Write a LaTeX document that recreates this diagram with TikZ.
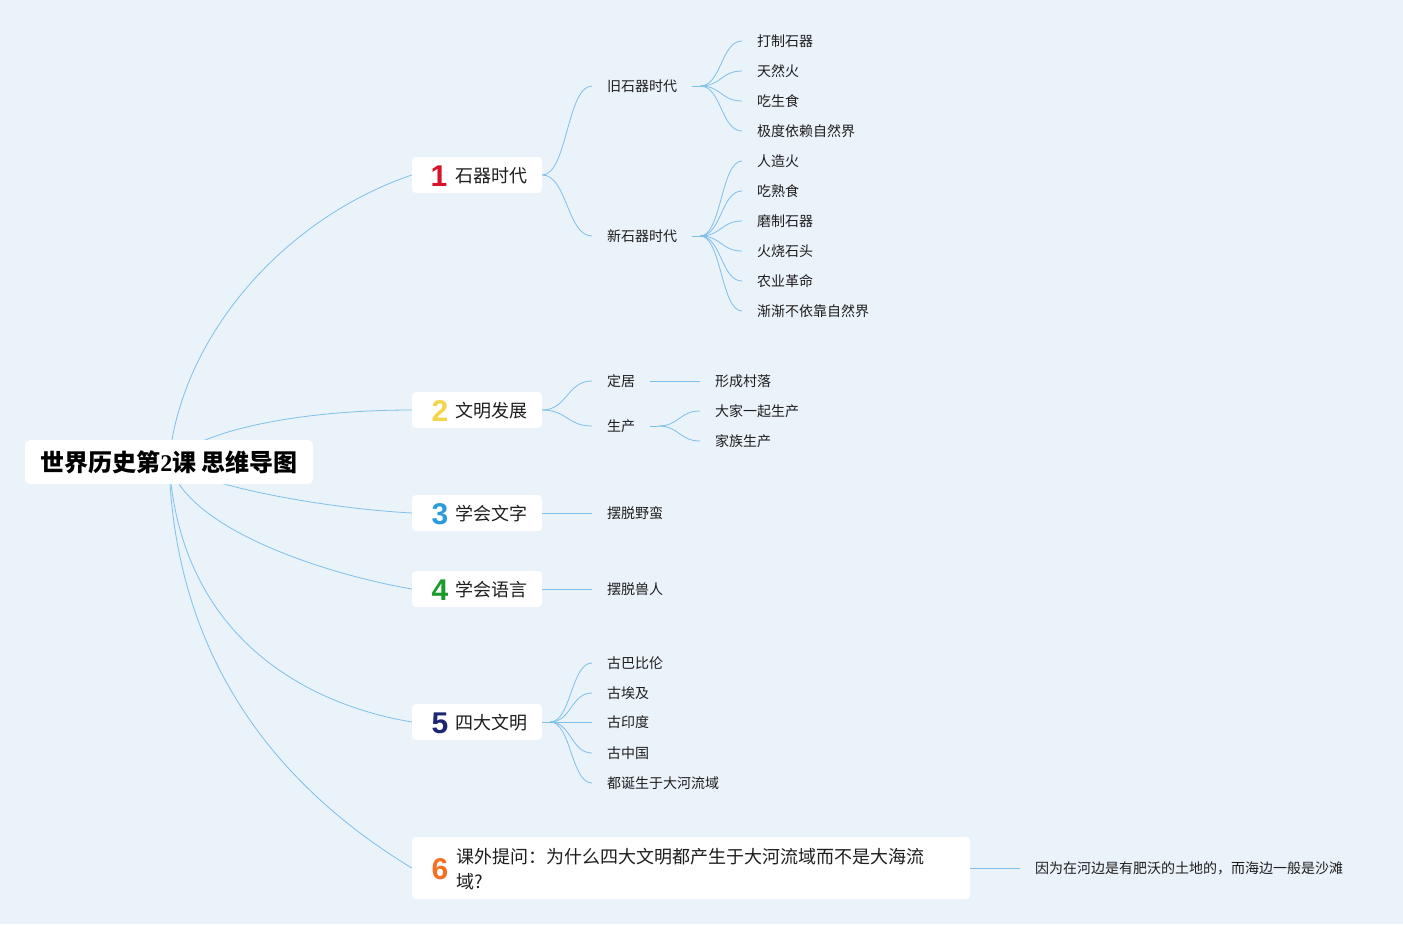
\documentclass[tikz,border=0pt]{standalone}
\usepackage{fontspec}
\setmainfont{Noto Sans CJK SC}
\newfontfamily\numfont{Liberation Sans}
\newfontfamily\serifdigit{Liberation Serif}
\usetikzlibrary{calc}
\pgfdeclarelayer{bg}\pgfdeclarelayer{lines}\pgfsetlayers{bg,lines,main}
\definecolor{bgc}{HTML}{EAF2FA}
\definecolor{linec}{RGB}{126,192,232}
\definecolor{txt}{HTML}{1E1E1E}
\definecolor{cone}{HTML}{D7122B}
\definecolor{ctwo}{HTML}{F5D44A}
\definecolor{cthree}{HTML}{2A9BDB}
\definecolor{cfour}{HTML}{1C9A2B}
\definecolor{cfive}{HTML}{1B2773}
\definecolor{csix}{HTML}{F37021}
\newcommand\hc[2]{\draw[conn] let \p1=(#1), \p2=(#2) in (\p1) .. controls ({(\x1+\x2)/2},\y1) and ({(\x1+\x2)/2},\y2) .. (\p2);}
\tikzset{
  conn/.style={draw=linec, line width=0.8pt},
  bbox/.style={fill=white, rounded corners=4pt, minimum height=36pt, inner sep=0pt},
  btext/.style={font=\fontsize{18}{20}\selectfont, text=txt, anchor=west, inner sep=0pt},
  num/.style={font=\numfont\bfseries\fontsize{30}{30}\selectfont, inner sep=0pt},
  sub/.style={font=\fontsize{14}{16}\selectfont, text=txt, anchor=west, inner xsep=15pt, inner ysep=2pt},
}
\begin{document}
\begin{tikzpicture}[x=1pt,y=-1pt]
\useasboundingbox (0,0) rectangle (1403,924);
\begin{pgfonlayer}{bg}
\fill[bgc] (0,0) rectangle (1403,924);
\end{pgfonlayer}

% root
\node[fill=white, rounded corners=5pt, minimum width=288pt, minimum height=44pt, inner sep=0pt,
      text=black, font=\bfseries\fontsize{24}{26}\selectfont] (root) at (169,462)
      {世界历史第{\serifdigit\bfseries 2}课 思维导图};

% branch boxes
\node[bbox, minimum width=130pt] (b1) at (477,175) {};
\node[num, text=cone] (n1) at (439,176) {1};
\node[btext] (t1) at (455,176) {石器时代};

\node[bbox, minimum width=130pt] (b2) at (477,410) {};
\node[num, text=ctwo] (n2) at (440,411) {2};
\node[btext] (t2) at (455,411) {文明发展};

\node[bbox, minimum width=130pt] (b3) at (477,513) {};
\node[num, text=cthree] (n3) at (440,514) {3};
\node[btext] (t3) at (455,514) {学会文字};

\node[bbox, minimum width=130pt] (b4) at (477,589) {};
\node[num, text=cfour] (n4) at (440,590) {4};
\node[btext] (t4) at (455,590) {学会语言};

\node[bbox, minimum width=130pt] (b5) at (477,722) {};
\node[num, text=cfive] (n5) at (440,723) {5};
\node[btext] (t5) at (455,723) {四大文明};

\node[bbox, minimum width=558pt, minimum height=62pt] (b6) at (691,868) {};
\node[num, text=csix] (n6) at (440,869) {6};
\node[btext, align=left, font=\fontsize{18}{25}\selectfont] (t6) at (456,869)
  {课外提问：为什么四大文明都产生于大河流域而不是大海流\\域?};

% level 2
\node[sub] (p1) at (592,86) {旧石器时代};
\node[sub] (p2) at (592,236) {新石器时代};
\node[sub] (p3) at (592,381) {定居};
\node[sub] (p4) at (592,426) {生产};
\node[sub] (p5) at (592,513) {摆脱野蛮};
\node[sub] (p6) at (592,589) {摆脱兽人};
\node[sub] (q1) at (592,663) {古巴比伦};
\node[sub] (q2) at (592,693) {古埃及};
\node[sub] (q3) at (592,722) {古印度};
\node[sub] (q4) at (592,753) {古中国};
\node[sub] (q5) at (592,783) {都诞生于大河流域};
\node[sub] (ans) at (1020,868) {因为在河边是有肥沃的土地的，而海边一般是沙滩};

% leaves
\node[sub] (a1) at (742,41) {打制石器};
\node[sub] (a2) at (742,71) {天然火};
\node[sub] (a3) at (742,101) {吃生食};
\node[sub] (a4) at (742,131) {极度依赖自然界};
\node[sub] (c1) at (742,161) {人造火};
\node[sub] (c2) at (742,191) {吃熟食};
\node[sub] (c3) at (742,221) {磨制石器};
\node[sub] (c4) at (742,251) {火烧石头};
\node[sub] (c5) at (742,281) {农业革命};
\node[sub] (c6) at (742,311) {渐渐不依靠自然界};
\node[sub] (d1) at (700,381) {形成村落};
\node[sub] (d2) at (700,411) {大家一起生产};
\node[sub] (d3) at (700,441) {家族生产};

% hubs
\coordinate (h1) at ($(p1.east)+(8,0)$);
\coordinate (h2) at ($(p2.east)+(8,0)$);
\coordinate (h4) at ($(p4.east)+(8,0)$);
\coordinate (h5) at ($(b5.east)+(8,0)$);

\begin{pgfonlayer}{lines}
% root connectors
\draw[conn] (root.center) .. controls (180,340) and (280,220) .. (b1.west);
\draw[conn] (root.center) .. controls (200,430) and (300,410) .. (b2.west);
\draw[conn] (root.center) .. controls (200,485) and (320,508) .. (b3.west);
\draw[conn] (root.center) .. controls (185,530) and (330,575) .. (b4.west);
\draw[conn] (root.center) .. controls (180,640) and (310,705) .. (b5.west);
\draw[conn] (root.center) .. controls (175,680) and (300,800) .. (b6.west);
% branch 1
\hc{b1.east}{p1.west}
\hc{b1.east}{p2.west}
\draw[conn] (p1.east) -- (h1);
\draw[conn] (p2.east) -- (h2);
\foreach \l in {a1,a2,a3,a4}{\hc{h1}{\l.west}}
\foreach \l in {c1,c2,c3,c4,c5,c6}{\hc{h2}{\l.west}}
% branch 2
\hc{b2.east}{p3.west}
\hc{b2.east}{p4.west}
\draw[conn] (p3.east) -- (d1.west);
\draw[conn] (p4.east) -- (h4);
\hc{h4}{d2.west}
\hc{h4}{d3.west}
% branch 3, 4
\draw[conn] (b3.east) -- (p5.west);
\draw[conn] (b4.east) -- (p6.west);
% branch 5
\draw[conn] (b5.east) -- (h5);
\foreach \l in {q1,q2,q3,q4,q5}{\hc{h5}{\l.west}}
% branch 6
\draw[conn] (b6.east) -- (ans.west);
\end{pgfonlayer}
\end{tikzpicture}
\end{document}
